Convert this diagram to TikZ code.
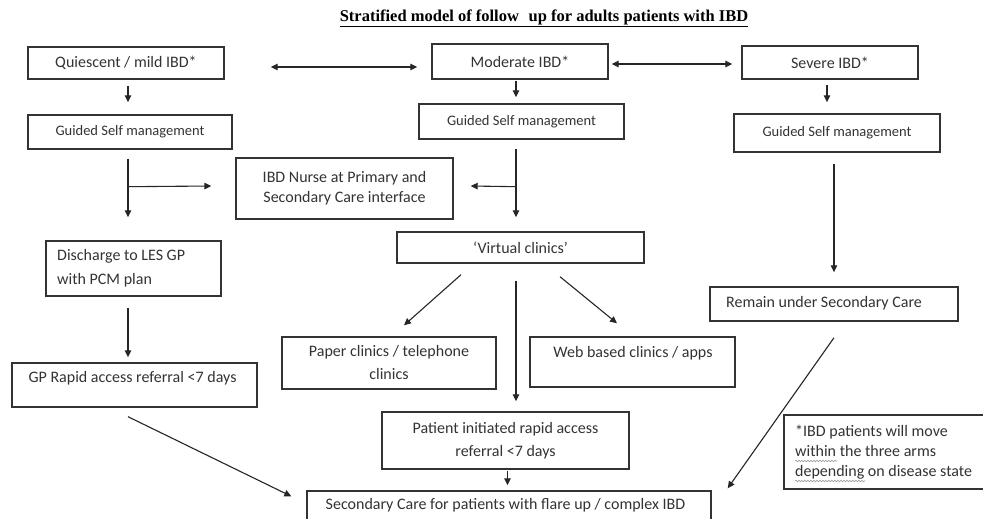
\documentclass[tikz,border=0pt]{standalone}
\usepackage{fontspec}
\setmainfont{Carlito}
\newfontfamily\titlefont{Liberation Serif}
\usetikzlibrary{arrows.meta,calc,decorations.pathmorphing}
\begin{document}
\begin{tikzpicture}[x=1pt,y=-1pt,
  box/.style={draw=black!80, line width=1.4pt, inner sep=0pt},
  conn/.style={draw=black!85, line width=1.1pt, -{Triangle[length=7pt,width=6.5pt]}},
  dconn/.style={draw=black!85, line width=1.1pt, {Triangle[length=7pt,width=6.5pt]}-{Triangle[length=7pt,width=6.5pt]}},
  txt/.style={font=\fontsize{16}{20}\selectfont, text=black!80},
  small/.style={font=\fontsize{14.5}{18}\selectfont, text=black!80},
  lab/.style={txt, inner sep=0pt},
  squig/.style={draw=black!40, line width=0.6pt, decorate, decoration={snake, amplitude=0.8pt, segment length=3pt}}]
\useasboundingbox (0,0) rectangle (983,519);
\clip (0,0) rectangle (983,519);
\fill[white] (0,0) rectangle (983,519);

% title
\node[inner sep=0pt, text=black] (title) at (544,18)
  {\titlefont\bfseries\fontsize{16.5}{19}\selectfont\underline{Stratified model of follow\,\, up for adults patients with IBD}};

% top row
\node[box, txt, minimum width=196pt, minimum height=32pt] (quies) at (126,63) {Quiescent / mild IBD*};
\node[box, txt, minimum width=176pt, minimum height=35pt] (moder) at (520,61.5) {Moderate IBD*};
\node[box, txt, minimum width=176pt, minimum height=33pt] (severe) at (830,62.5) {Severe IBD*};

% guided self management
\node[box, small, minimum width=204pt, minimum height=34pt] (guided1) at (130,132) {Guided Self management};
\node[box, small, minimum width=205pt, minimum height=35pt] (guided2) at (521.5,121.5) {Guided Self management};
\node[box, small, minimum width=206pt, minimum height=38pt] (guided3) at (837,133) {Guided Self management};

% middle
\node[box, txt, align=center, minimum width=217pt, minimum height=61pt] (nurse) at (344.5,188.5) {IBD Nurse at Primary and\\Secondary Care interface};
\node[box, txt, minimum width=247pt, minimum height=31pt] (virtual) at (520.5,247.5) {`Virtual clinics'};
\node[box, minimum width=175pt, minimum height=55pt] (discharge) at (133.5,268.5) {};
\node[lab, anchor=west, align=left, font=\fontsize{16}{24}\selectfont] (dischargetext) at (57,268) {Discharge to LES GP\\with PCM plan};

\node[box, minimum width=245pt, minimum height=44pt] (gprapid) at (134.5,385) {};
\node[lab] (gptext) at (132.5,378) {GP Rapid access referral <7 days};

\node[box, txt, align=center, minimum width=214pt, minimum height=52pt, font=\fontsize{16}{23}\selectfont] (paper) at (389,363) {Paper clinics / telephone\\clinics};
\node[box, minimum width=205pt, minimum height=50pt] (web) at (632.5,362) {};
\node[lab] (webtext) at (633,353) {Web based clinics / apps};

\node[box, minimum width=248pt, minimum height=34pt] (remain) at (834,304) {};
\node[lab] (remaintext) at (824,303) {Remain under Secondary Care};

\node[box, txt, align=center, minimum width=247pt, minimum height=57pt, font=\fontsize{16}{23}\selectfont] (patient) at (505.5,440.5) {Patient initiated rapid access\\referral <7 days};

\node[box, minimum width=404pt, minimum height=49pt] (secondary) at (509,515.5) {};
\node[lab] (sectext) at (505.5,505) {Secondary Care for patients with flare up / complex IBD};

\node[box, minimum width=216pt, minimum height=74pt] (note) at (892,452) {};
\node[lab, anchor=west, align=left, font=\fontsize{16}{20}\selectfont] (notetext) at (795,452) {*IBD patients will move\\within the three arms\\depending on disease state};
% spell-check squiggles
\draw[squig] ($(notetext.west)+(0,9)$) -- ($(notetext.west)+(42,9)$);
\draw[squig] ($(notetext.west)+(0,29)$) -- ($(notetext.west)+(70,29)$);

% connectors
\draw[dconn] ($(quies.east)+(46,4)$) -- ($(moder.west)+(-14,5.5)$);
\draw[dconn] ($(moder.east)+(3,2.5)$) -- ($(severe.west)+(-9,1.5)$);

\draw[conn] ($(quies.south)+(2,6)$) -- ($(guided1.north)+(-2,-12)$);
\draw[conn] ($(moder.south)+(-4,1)$) -- ($(guided2.north)+(-5.5,-6)$);
\draw[conn] ($(severe.south)+(-3,5)$) -- ($(guided3.north)+(-10,-11)$);

\coordinate (b1) at ($(guided1.south)+(-2,37)$);
\draw[conn] ($(guided1.south)+(-2,9)$) -- ($(discharge.north)+(-5.5,-23)$);
\draw[conn] (b1) -- ($(nurse.west)+(-24,-2.5)$);

\coordinate (b2) at ($(guided2.south)+(-5.5,47)$);
\draw[conn] ($(guided2.south)+(-5.5,9)$) -- ($(virtual.north)+(-4.5,-14)$);
\draw[conn] (b2) -- ($(nurse.east)+(17,-2.5)$);

\draw[conn] ($(virtual.south)+(-59.5,11)$) -- ($(paper.north)+(15,-11)$);
\draw[conn] ($(virtual.south)+(-4.5,17)$) -- ($(patient.north)+(10.5,-10)$);
\draw[conn] ($(virtual.south)+(39.5,13)$) -- ($(web.north)+(-15.5,-13)$);

\draw[conn] ($(discharge.south)+(-5.5,11)$) -- ($(gprapid.north)+(-6.5,-5)$);
\draw[conn] ($(guided3.south)+(-3,11)$) -- ($(remain.north)+(0,-14)$);

\draw[conn] ($(gprapid.south)+(-6.5,9)$) -- ($(secondary.north west)+(-15,6)$);
\draw[conn] ($(remain.south)+(0,16)$) -- ($(secondary.north east)+(16,-2)$);
\draw[conn] ($(patient.south)+(2,1)$) -- ($(secondary.north)+(-1.5,-5)$);
\end{tikzpicture}
\end{document}
